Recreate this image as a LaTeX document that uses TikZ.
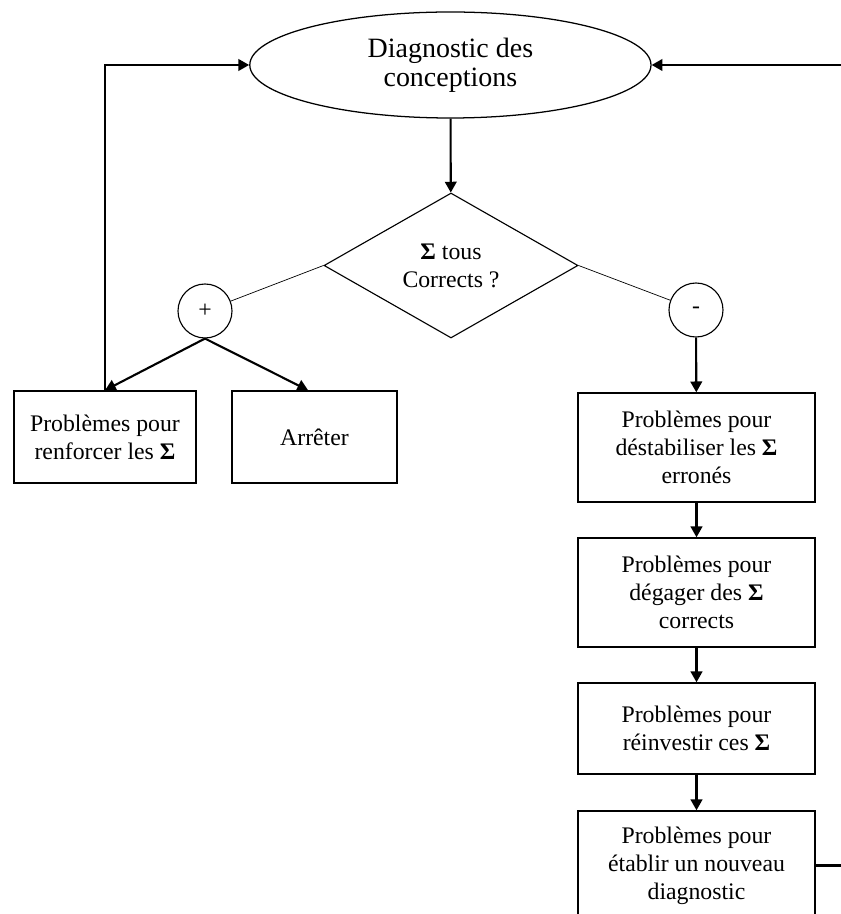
\documentclass[tikz,border=0pt]{standalone}
\usepackage{fontspec}
\setmainfont{Liberation Serif}
\usetikzlibrary{shapes.geometric,arrows.meta}

\begin{document}
\begin{tikzpicture}[>={Triangle[length=2.7mm,width=2.9mm]},
  txt/.style={font=\fontsize{16.9}{20}\selectfont, align=center},
  box/.style={rectangle, draw, line width=1pt, inner sep=0pt, txt},
  sign/.style={circle, draw, line width=0.8pt, minimum size=1.35cm, inner sep=0pt, txt},
  link/.style={line width=1.5pt}]
  \useasboundingbox (0,0) rectangle (21,22.85);

  \node[ellipse, draw, line width=0.9pt, minimum width=10.03cm, minimum height=2.65cm, inner sep=0pt, align=center, font=\fontsize{19.9}{20.5}\selectfont] (diag) at (11.26,21.225) {Diagnostic des\\conceptions};
  \node[diamond, draw, line width=0.8pt, aspect=1.75, minimum width=6.35cm, minimum height=3.625cm, inner sep=0pt, txt] (test) at (11.275,16.2125) {{\bfseries Σ} tous\\Corrects ?};
  \node[sign] (plus) at (5.125,15.075) {+};
  \node[sign] (minus) at (17.4,15.1) {-};

  \node[box, minimum width=4.55cm, minimum height=2.3cm] (renforcer) at (2.625,11.925) {Problèmes pour\\renforcer les {\bfseries Σ}};
  \node[box, minimum width=4.125cm, minimum height=2.3cm] (arreter) at (7.8625,11.925) {Arrêter};

  \node[box, minimum width=5.925cm, minimum height=2.725cm] (destab) at (17.4125,11.6625) {Problèmes pour\\déstabiliser les {\bfseries Σ}\\erronés};
  \node[box, minimum width=5.925cm, minimum height=2.725cm] (degager) at (17.4125,8.0375) {Problèmes pour\\dégager des {\bfseries Σ}\\corrects};
  \node[box, minimum width=5.925cm, minimum height=2.275cm] (reinvest) at (17.4125,4.6375) {Problèmes pour\\réinvestir ces {\bfseries Σ}};
  \node[box, minimum width=5.925cm, minimum height=2.725cm] (etablir) at (17.4125,1.2125) {Problèmes pour\\établir un nouveau\\diagnostic};
  \coordinate (rcorner) at (21.4,0);

  \draw[link,->] (diag) -- (test);
  \draw[line width=0.5pt] (test.west) -- (plus);
  \draw[line width=0.5pt] (test.east) -- (minus);
  \draw[link,->] (plus.south) -- (renforcer.north);
  \draw[link,->] (plus.south) -- ([xshift=-0.16cm]arreter.north);
  \draw[link,->] (renforcer.north) |- (diag.west);
  \draw[link,->] (minus) -- (destab);
  \draw[link,->] (destab) -- (degager);
  \draw[link,->] (degager) -- (reinvest);
  \draw[link,->] (reinvest) -- (etablir);
  \draw[link,->] (etablir.east) -| (rcorner |- diag.east) -- (diag.east);
\end{tikzpicture}
\end{document}
